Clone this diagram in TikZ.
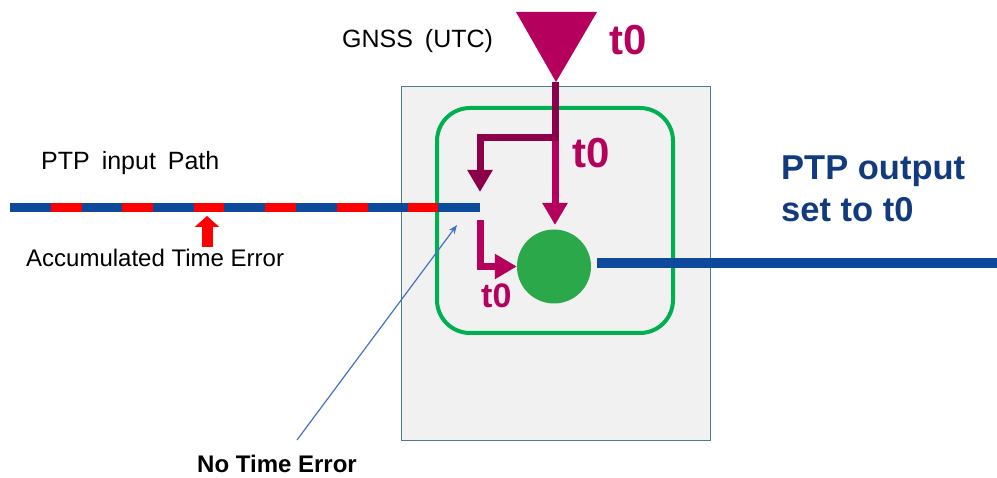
\documentclass[tikz,border=0pt]{standalone}
\usepackage{fontspec}
\setmainfont{Liberation Sans}
\usetikzlibrary{arrows.meta}
\definecolor{mag}{HTML}{B5005E}
\definecolor{dmag}{HTML}{8B0048}
\definecolor{pblue}{HTML}{0E4A9B}
\definecolor{navy}{HTML}{123B7E}
\definecolor{gborder}{HTML}{00B050}
\definecolor{gfill}{HTML}{2AA84A}
\definecolor{boxfill}{HTML}{F1F1F1}
\definecolor{boxedge}{HTML}{4A7C8E}
\definecolor{thinblue}{HTML}{4472C4}
\tikzset{
  lbl/.style={inner sep=0pt, anchor=base west},
  thick arrow/.style={line width=7pt, -{Triangle[width=24pt,length=22pt]}},
}
\begin{document}
\begin{tikzpicture}[x=1pt,y=-1pt]
\useasboundingbox (0,0) rectangle (997,478);
\fill[white] (0,0) rectangle (997,478);

% clock box
\node[draw=boxedge, line width=1.2pt, fill=boxfill, minimum width=309pt, minimum height=354pt, inner sep=0pt, anchor=north west] (clock) at (401,86) {};
\node[draw=gborder, line width=4pt, rounded corners=33pt, minimum width=236pt, minimum height=225pt, inner sep=0pt] (sub) at (555,220.5) {};
\node[circle, fill=gfill, minimum size=74pt, inner sep=0pt] (sync) at (554,266.5) {};

% GNSS source
\fill[mag] (516,12) -- (597,12) -- (556,82) -- cycle;
\coordinate (apex) at (555,82);
\coordinate (split) at (555,137.5);
\coordinate (dtip) at (480,192);
\coordinate (mtip) at (555,225);
\coordinate (lstart) at (480,220);

% input path
\coordinate (inL) at (10,208);
\coordinate (inR) at (480,208);
\draw[pblue, line width=9pt] (inL) -- (inR);
\foreach \a/\b in {51/82,122/153,194/224,265/296,337/368,408/438}
  \draw[red, line width=9pt] (\a,208) -- (\b,208);
\coordinate (ra) at (207,247);
\coordinate (rb) at (207,216);
\draw[red, line width=11pt, -{Triangle[width=24pt,length=11pt]}] (ra) -- (rb);

% magenta arrows
\draw[mag, thick arrow] (split) -- (mtip);
\draw[dmag, thick arrow] (apex) -- (split) -| (dtip);
\draw[mag, thick arrow] (lstart) |- (sync.west);

% output
\coordinate (outL) at (597,263);
\coordinate (outR) at (997,263);
\draw[pblue, line width=10pt] (outL) -- (outR);

% labels
\node[lbl, font=\fontsize{25}{30}\selectfont] (gnss) at (342,48) {GNSS\hspace{5pt} (UTC)};
\node[lbl, font=\fontsize{42}{48}\selectfont\bfseries, text=mag] (t0a) at (609,55) {t0};
\node[lbl, font=\fontsize{42}{48}\selectfont\bfseries, text=mag] (t0b) at (572,168) {t0};
\node[lbl, font=\fontsize{34}{40}\selectfont\bfseries, text=mag] (t0c) at (481,308) {t0};
\node[lbl, font=\fontsize{25}{30}\selectfont] (inlbl) at (41,170) {PTP\hspace{5pt} input\hspace{5pt} Path};
\node[lbl, font=\fontsize{24}{28}\selectfont] (acc) at (26,267) {Accumulated Time Error};
\node[lbl, font=\fontsize{24}{28}\selectfont\bfseries] (nte) at (197,473) {No Time Error};
\node[lbl, font=\fontsize{34.5}{42}\selectfont\bfseries, text=navy] (out1) at (781,180) {PTP output};
\node[lbl, font=\fontsize{34.5}{42}\selectfont\bfseries, text=navy] (out2) at (781,222) {set to t0};

% pointer
\coordinate (ptrS) at (297,440);
\coordinate (ptrE) at (457,225);
\draw[thinblue, line width=1.2pt, -{Stealth[length=9pt,width=7pt]}] (ptrS) -- (ptrE);
\end{tikzpicture}
\end{document}
